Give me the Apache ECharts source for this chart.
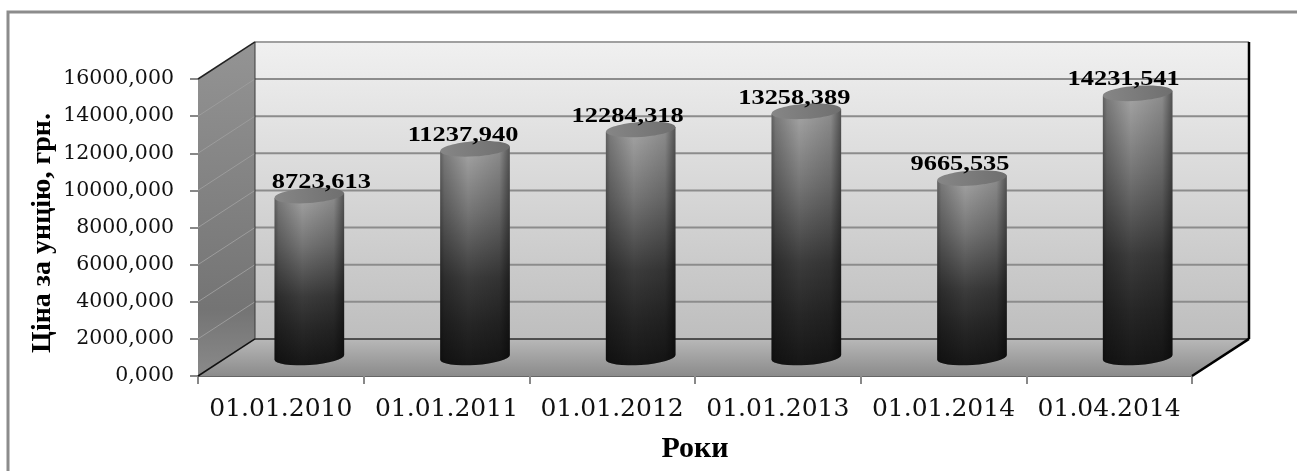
<!DOCTYPE html>
<html><head><meta charset="utf-8">
<style>html,body{margin:0;padding:0;background:#fff}#c{width:1297px;height:471px}#c canvas{filter:blur(0.4px)}</style>
<script src="https://cdn.jsdelivr.net/npm/echarts@6/dist/echarts.min.js"></script>
</head><body><div id="c"></div>
<script>
const categories = ['01.01.2010','01.01.2011','01.01.2012','01.01.2013','01.01.2014','01.04.2014'];
const prices = [8723.613,11237.940,12284.318,13258.389,9665.535,14231.541];
const yTicks = [0,2000,4000,6000,8000,10000,12000,14000,16000];
const labelShiftX = [12,-12,-13,-12,-12,-14];
const fmt = v => v.toFixed(3).replace('.',',');
const G = echarts.graphic;
const DEPTH_X = 57;
const vGrad = stops => new G.LinearGradient(0,0,0,1,stops.map(c=>({offset:c[0],color:c[1]})));

function renderBox(params, api){
  const band = api.size([1,0])[0];
  const last = categories.length-1;
  const unit = api.size([0,2000])[1];
  const dx = DEPTH_X, dy = -unit;
  const L = api.coord([0,0])[0]-band/2, R = api.coord([last,0])[0]+band/2;
  const y0 = api.coord([0,0])[1], yTop = api.coord([0,16000])[1];
  const kids = [];
  kids.push({type:'polygon',shape:{points:[[L,y0],[L+dx,y0+dy],[L+dx,yTop+dy],[L,yTop]]},
    style:{fill:vGrad([[0,'#949494'],[0.8,'#747474'],[1,'#8a8a8a']])}});
  kids.push({type:'polygon',shape:{points:[[L,y0],[R,y0],[R+dx,y0+dy],[L+dx,y0+dy]]},
    style:{fill:vGrad([[0,'#b8b8b8'],[1,'#8b8b8b']])}});
  kids.push({type:'rect',shape:{x:L+dx,y:yTop+dy,width:R-L,height:y0-yTop},
    style:{fill:vGrad([[0,'#f0f0f0'],[1,'#bebebe']])}});
  yTicks.forEach(t=>{
    const y = api.coord([0,t])[1];
    if(t>0 && t<16000) kids.push({type:'line',shape:{x1:L,y1:y,x2:L+dx,y2:y+dy},style:{stroke:'#9c9c9c',lineWidth:1}});
    if(t>0) kids.push({type:'line',shape:{x1:L+dx,y1:y+dy,x2:R+dx,y2:y+dy},
      style:{stroke:t===16000?'#a0a0a0':'#8c8c8c',lineWidth:2}});
  });
  const edge=(x1,y1,x2,y2,c,w)=>kids.push({type:'line',shape:{x1,y1,x2,y2},style:{stroke:c,lineWidth:w}});
  edge(L+dx,y0+dy,R+dx,y0+dy,'#2a2a2a',1.5);
  edge(L+dx,yTop+dy,L+dx,y0+dy,'#3a3a3a',1);
  edge(R+dx,yTop+dy,R+dx,y0+dy,'#000',2.5);
  edge(L,y0,L+dx,y0+dy,'#111',1.5);
  edge(L,yTop,L+dx,yTop+dy,'#222',1.5);
  edge(R,y0,R+dx,y0+dy,'#000',2.5);
  return {type:'group',children:kids};
}

function renderCyl(params, api){
  const i = api.value(0), v = api.value(1);
  const unit = api.size([0,2000])[1];
  const p0 = api.coord([i,0]), p1 = api.coord([i,v]);
  const cx = p0[0]+DEPTH_X/2, base = p0[1]-unit/2, top = p1[1]-unit/2;
  const hw = 34.8, ry = 7.5, tilt = 0.07, rise = hw*Math.sin(tilt);
  const body = `M${cx-hw} ${top+rise}L${cx+hw} ${top-rise}L${cx+hw} ${base-rise}A${hw} ${ry} ${-tilt*180/Math.PI} 0 1 ${cx-hw} ${base+rise}Z`;
  return {type:'group',children:[
    {type:'path',shape:{pathData:body},style:{fill:vGrad([[0,'#a6a6a6'],[0.3,'#757575'],[0.6,'#3c3c3c'],[0.8,'#272727'],[1,'#161616']])}},
    {type:'path',shape:{pathData:body},style:{fill:new G.LinearGradient(0,0,1,0,[
      {offset:0,color:'rgba(0,0,0,0.42)'},{offset:0.06,color:'rgba(0,0,0,0.25)'},{offset:0.4,color:'rgba(0,0,0,0)'},{offset:0.85,color:'rgba(0,0,0,0.15)'},{offset:1,color:'rgba(0,0,0,0.5)'}])}},
    {type:'ellipse',shape:{cx:0,cy:0,rx:hw,ry},x:cx,y:top,rotation:tilt,
      style:{fill:new G.LinearGradient(0,0,1,0,[{offset:0,color:'#868686'},{offset:1,color:'#6f6f6f'}])}},
    {type:'text',x:cx+labelShiftX[i],y:top-13.5,scaleX:1.2,
      style:{text:fmt(v),font:'bold 22px "Liberation Serif"',fill:'#000',align:'center',verticalAlign:'middle'}}
  ]};
}

const chart = echarts.init(document.getElementById('c'),null,{renderer:'canvas'});
chart.setOption({
  animation:false,
  backgroundColor:'#fff',
  graphic:[{type:'polyline',silent:true,shape:{points:[[8,471],[8,12],[1297,12]]},style:{stroke:'#8c8c8c',lineWidth:3,fill:'none'}}],
  grid:{left:198,right:105,top:79,bottom:95},
  xAxis:{type:'category',data:categories,name:'Роки',nameLocation:'middle',nameGap:58,
    nameTextStyle:{fontFamily:'Liberation Serif',fontWeight:'bold',fontSize:30,color:'#000'},
    axisLine:{lineStyle:{color:'#666',width:2}},axisTick:{show:true,length:8,alignWithLabel:false,lineStyle:{color:'#888',width:2}},
    axisLabel:{fontFamily:'DejaVu Serif',fontSize:25,color:'#111',margin:21,interval:0}},
  yAxis:{type:'value',min:0,max:16000,interval:2000,name:'Ціна за унцію, грн.',nameLocation:'middle',nameGap:141,nameRotate:90,nameMoveOverlap:false,
    nameTextStyle:{fontFamily:'Liberation Serif',fontWeight:'bold',fontSize:28,color:'#000',padding:[0,11,0,0]},
    axisLine:{show:false},axisTick:{show:true,length:8,lineStyle:{color:'#888',width:2}},splitLine:{show:false},
    axisLabel:{fontFamily:'DejaVu Serif',fontSize:20.5,color:'#111',margin:24,formatter:v=>fmt(v)}},
  series:[
    {type:'custom',name:'box',coordinateSystem:'cartesian2d',clip:false,silent:true,z:1,data:[[0,0]],renderItem:renderBox,encode:{x:0,y:1}},
    {type:'custom',name:'Ціна',coordinateSystem:'cartesian2d',clip:false,z:3,data:prices.map((v,i)=>[i,v]),renderItem:renderCyl,encode:{x:0,y:1}}
  ]
});
</script></body></html>
